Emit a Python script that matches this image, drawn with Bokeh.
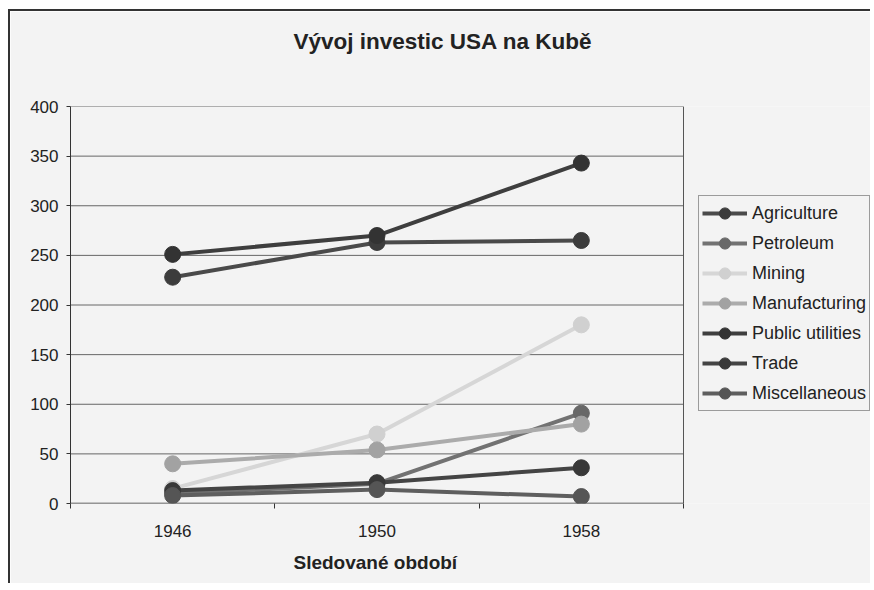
from bokeh.plotting import figure
from bokeh.models import Range1d, FixedTicker, Legend, LegendItem, Title
from bokeh.embed import file_html
from bokeh.resources import INLINE

years = ["1946", "1950", "1958"]
series_names = ["Agriculture", "Petroleum", "Mining", "Manufacturing",
                "Public utilities", "Trade", "Miscellaneous"]
agriculture = [228, 263, 265]
petroleum = [10, 20, 91]
mining = [15, 70, 180]
manufacturing = [40, 54, 80]
public_utilities = [251, 270, 343]
trade = [13, 21, 36]
miscellaneous = [8, 14, 7]
y_ticks = [0, 50, 100, 150, 200, 250, 300, 350, 400]

series_values = [agriculture, petroleum, mining, manufacturing,
                 public_utilities, trade, miscellaneous]
line_colors = ["#4a4a4a", "#727272", "#d6d6d6", "#ababab", "#3e3e3e", "#444444", "#5e5e5e"]
marker_colors = ["#3c3c3c", "#686868", "#d0d0d0", "#a2a2a2", "#333333", "#383838", "#555555"]

FONT = "Liberation Sans"
BG = "#f3f3f3"

n = len(years)
x_pos = [i + 0.5 for i in range(n)]
y_max = y_ticks[-1]

# layout (pixels)
W, H = 862, 574
LEFT, TOP, BOTTOM = 60, 95, 82
PLOT_PX = 613                   # width of the plotted area
FRAME_PX = W - LEFT             # frame extends under the legend
x_end = n * FRAME_PX / PLOT_PX

p = figure(width=W, height=H, output_backend="svg", toolbar_location=None,
           x_range=Range1d(0, x_end), y_range=Range1d(0, y_max),
           min_border_left=LEFT, min_border_right=0, min_border_top=TOP,
           min_border_bottom=BOTTOM)
p.styles = {"margin-left": "8px", "margin-top": "9px",
            "border-left": "2px solid #333333", "border-top": "2px solid #333333",
            "border-right": "none", "border-bottom": "none",
            "outline": "none", "box-shadow": "none", "overflow": "hidden"}
p.background_fill_color = BG
p.border_fill_color = BG
p.outline_line_color = None

# spacer between frame and title, then the title itself
p.add_layout(Title(text=" ", text_font_size="10px", standoff=35), "above")
p.add_layout(Title(text="Vývoj investic USA na Kubě", text_font=FONT, text_font_size="22.5px",
                   text_font_style="bold", text_color="#222222", align="left",
                   offset=223, standoff=10), "above")

# horizontal gridlines and plot-area border, limited to the plotted area
p.xgrid.grid_line_color = None
p.ygrid.grid_line_color = None
p.segment(x0=[0] * (len(y_ticks) - 1), x1=[n] * (len(y_ticks) - 1),
          y0=y_ticks[1:-1] + [y_max], y1=y_ticks[1:-1] + [y_max],
          line_color="#666666", line_width=1)
p.segment(x0=[n], x1=[n], y0=[0], y1=[y_max], line_color="#555555", line_width=1)

# axes
xa = p.xaxis[0]
xa.ticker = FixedTicker(ticks=x_pos, minor_ticks=list(range(n + 1)))
xa.major_label_overrides = {x: y for x, y in zip(x_pos, years)}
xa.axis_line_color = None
xa.major_tick_out = 0
xa.major_tick_in = 0
xa.minor_tick_out = 5
xa.minor_tick_in = 0
xa.minor_tick_line_color = "#333333"
xa.major_label_text_font = FONT
xa.major_label_text_font_size = "17px"
xa.major_label_text_color = "#222222"
xa.major_label_standoff = 16
p.segment(x0=[0], x1=[n], y0=[0], y1=[0], line_color="#333333", line_width=1.5)

p.add_layout(Title(text="Sledované období", text_font=FONT, text_font_size="19px",
                   text_font_style="bold", text_color="#222222", align="left",
                   offset=223, standoff=20), "below")

ya = p.yaxis[0]
ya.ticker = FixedTicker(ticks=y_ticks)
ya.major_tick_out = 4
ya.major_tick_in = 0
ya.minor_tick_line_color = None
ya.axis_line_color = "#333333"
ya.major_tick_line_color = "#333333"
ya.major_label_text_font = FONT
ya.major_label_text_font_size = "17px"
ya.major_label_text_color = "#222222"
ya.major_label_standoff = 8

items = []
for name, vals, lc, mc in zip(series_names, series_values, line_colors, marker_colors):
    r1 = p.line(x_pos, vals, line_color=lc, line_width=4)
    r2 = p.scatter(x_pos, vals, size=16, fill_color=mc, line_color=mc, marker="circle")
    items.append(LegendItem(label=name, renderers=[r1, r2]))

legend = Legend(items=items, location=(628, 92))
legend.background_fill_color = BG
legend.background_fill_alpha = 1
legend.border_line_color = "#444444"
legend.border_line_width = 1
legend.label_text_font = FONT
legend.label_text_font_size = "18px"
legend.label_text_color = "#222222"
legend.glyph_width = 45
legend.glyph_height = 28
legend.label_height = 28
legend.label_standoff = 5
legend.spacing = 2
legend.padding = 3
legend.margin = 0
p.add_layout(legend, "center")

open("out.html", "w").write(file_html(p, INLINE))
